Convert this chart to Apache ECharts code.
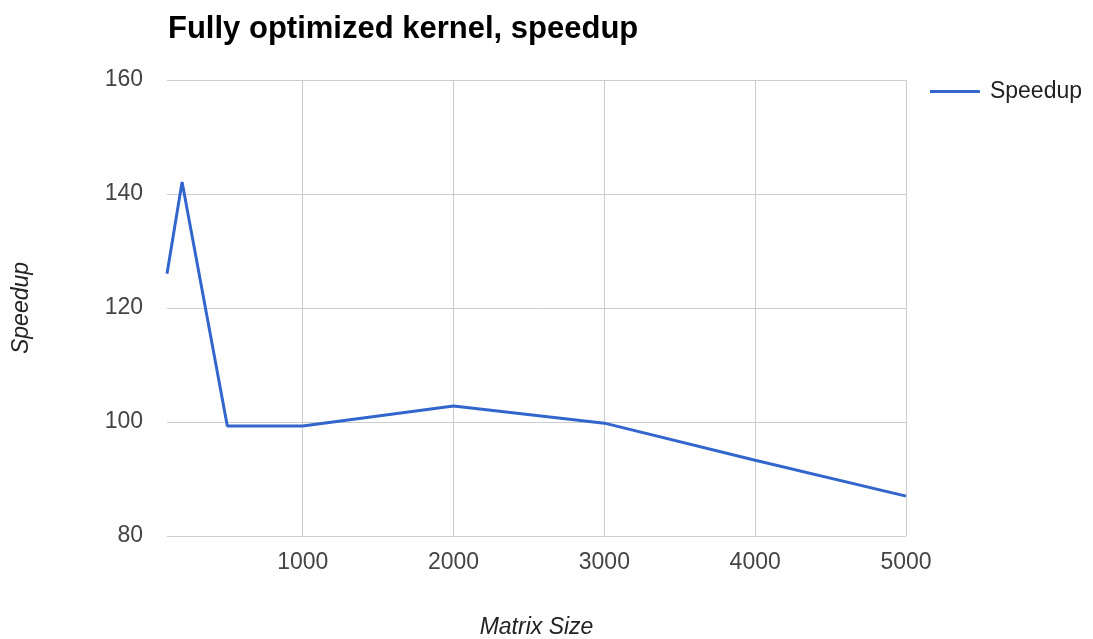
<!DOCTYPE html>
<html>
<head>
<meta charset="utf-8">
<script src="https://cdn.jsdelivr.net/npm/echarts@6/dist/echarts.min.js"></script>
<style>
  html, body { margin: 0; padding: 0; background: #fff; }
  #chart { width: 1093px; height: 639px; }
</style>
</head>
<body>
<div id="chart"></div>
<script>
// Matrix sizes and measured speedup of the fully optimized kernel
const matrixSizes = [100, 200, 500, 1000, 2000, 3000, 4000, 5000];
const speedups = [126.0, 142.1, 99.3, 99.3, 102.8, 99.8, 93.3, 87.0];
const xTicks = [1000, 2000, 3000, 4000, 5000];
const yTicks = [80, 100, 120, 140, 160];

const FONT = '"Liberation Sans", Arial, sans-serif';
const chart = echarts.init(document.getElementById('chart'));

chart.setOption({
  backgroundColor: '#ffffff',
  animation: false,
  title: {
    text: 'Fully optimized kernel, speedup',
    left: 163,
    top: 9,
    textStyle: { fontFamily: FONT, fontSize: 31, fontWeight: 'bold', color: '#000' }
  },
  legend: {
    right: 6,
    top: 75,
    icon: 'rect',
    itemWidth: 50,
    itemHeight: 3,
    textStyle: { fontFamily: FONT, fontSize: 23, color: '#222', padding: [0, 0, 0, 5] },
    data: ['Speedup']
  },
  grid: { left: 167, right: 187, top: 80, bottom: 103, containLabel: false, outerBoundsMode: 'none' },
  xAxis: {
    type: 'value',
    min: matrixSizes[0],
    max: matrixSizes[matrixSizes.length - 1],
    name: 'Matrix Size',
    nameLocation: 'middle',
    nameGap: 80,
    nameTextStyle: { fontFamily: FONT, fontSize: 23, fontStyle: 'italic', color: '#222' },
    axisLine: { show: false },
    axisTick: { show: false, customValues: xTicks },
    axisLabel: {
      customValues: xTicks,
      margin: 15,
      formatter: (v) => String(v),
      fontFamily: FONT, fontSize: 23, color: '#444'
    },
    splitLine: { show: true, lineStyle: { color: '#cccccc', width: 1 } }
  },
  yAxis: {
    type: 'value',
    min: yTicks[0],
    max: yTicks[yTicks.length - 1],
    interval: 20,
    name: 'Speedup',
    nameLocation: 'middle',
    nameGap: 134,
    nameTextStyle: { fontFamily: FONT, fontSize: 23, fontStyle: 'italic', color: '#222' },
    axisLine: { show: false },
    axisTick: { show: false },
    axisLabel: { margin: 24, fontFamily: FONT, fontSize: 23, color: '#444' },
    splitLine: { show: true, lineStyle: { color: '#cccccc', width: 1 } }
  },
  series: [{
    name: 'Speedup',
    type: 'line',
    data: matrixSizes.map((x, i) => [x, speedups[i]]),
    showSymbol: false,
    symbol: 'none',
    lineStyle: { color: '#3366cc', width: 3 },
    itemStyle: { color: '#3366cc' }
  }]
});
</script>
</body>
</html>
